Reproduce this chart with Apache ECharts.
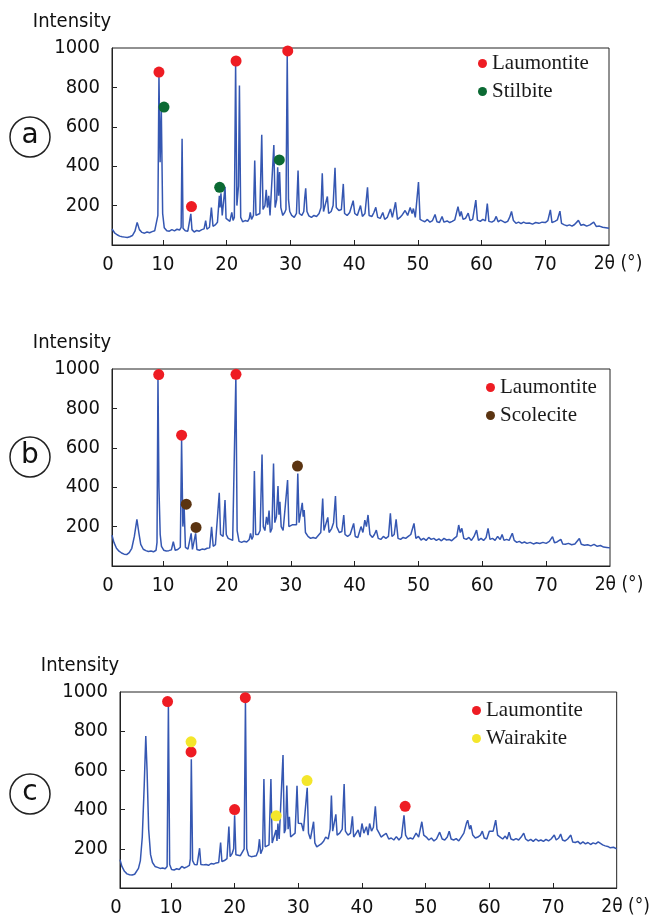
<html>
<head>
<meta charset="utf-8">
<script src="https://cdn.jsdelivr.net/npm/echarts@6/dist/echarts.min.js"></script>
<style>
  html, body { margin: 0; padding: 0; background: #fff; }
  #main { width: 653px; height: 922px; }
</style>
</head>
<body>
<div id="main"></div>
<script type="text/javascript">
// 2θ (°) , intensity
var patternA = [
  [2.0,81],[2.4,62],[2.8,52],[3.2,45],[3.6,42],[4.0,40],[4.4,38],[4.8,42],[5.2,48],[5.6,70],[5.95,115],[6.3,78],[6.7,64],[7.1,60],[7.5,66],[7.9,62],[8.3,68],[8.7,72],[9.0,78],[9.2,150],
  [9.37,860],[9.55,420],[9.74,683],[9.95,160],[10.2,88],[10.6,72],[11.0,70],[11.4,78],[11.8,72],[12.2,80],[12.6,76],[12.85,90],[13.0,539],[13.15,85],[13.5,72],[13.9,70],[14.2,80],[14.37,158],[14.55,78],[14.9,66],
  [15.3,74],[15.7,70],[16.1,78],[16.45,82],[16.7,124],[16.9,80],[17.3,90],[17.6,190],[17.85,95],[18.2,102],[18.55,115],[18.85,250],[18.95,190],[19.1,262],[19.3,150],[19.55,160],[19.74,296],[19.9,135],[20.2,125],[20.5,120],
  [20.8,166],[21.0,125],[21.2,140],[21.4,917],[21.6,200],[21.85,300],[22.0,810],[22.2,140],[22.5,118],[22.9,124],[23.3,120],[23.55,135],[23.7,166],[23.9,130],[24.2,150],[24.4,429],[24.6,150],[24.9,140],[25.2,160],[25.5,559],
  [25.7,180],[26.0,200],[26.2,280],[26.4,190],[26.6,250],[26.8,150],[27.1,160],[27.4,508],[27.6,190],[27.85,230],[28.0,395],[28.15,250],[28.3,370],[28.5,190],[28.8,150],[29.1,165],[29.3,180],[29.5,963],[29.7,230],[29.9,170],
  [30.2,150],[30.6,140],[30.95,160],[31.2,378],[31.4,160],[31.8,150],[32.1,170],[32.25,240],[32.4,288],[32.6,170],[32.9,148],[33.3,140],[33.7,150],[34.1,145],[34.5,160],[34.8,190],[35.0,364],[35.2,170],[35.5,165],[35.8,246],
  [36.0,160],[36.4,170],[36.7,200],[37.0,392],[37.2,190],[37.6,175],[38.0,180],[38.3,310],[38.5,160],[38.9,150],[39.3,165],[39.85,225],[40.1,160],[40.5,150],[41.0,200],[41.3,145],[41.7,160],[42.1,293],[42.35,150],[42.8,145],
  [43.1,165],[43.4,191],[43.7,140],[44.1,135],[44.5,165],[44.8,130],[45.2,140],[45.7,183],[46.0,140],[46.5,217],[46.8,130],[47.2,140],[47.6,155],[48.0,175],[48.4,150],[48.8,190],[49.1,160],[49.3,185],[49.6,140],[50.1,319],
  [50.35,130],[50.7,124],[51.1,118],[51.5,130],[51.9,116],[52.3,124],[52.7,155],[53.0,118],[53.4,114],[53.8,145],[54.1,116],[54.6,122],[55.0,114],[55.4,120],[55.8,128],[56.3,195],[56.6,145],[56.8,170],[57.1,130],[57.5,136],
  [57.9,162],[58.2,124],[58.6,130],[59.1,228],[59.35,126],[59.8,120],[60.2,130],[60.6,122],[60.9,210],[61.15,120],[61.6,116],[62.0,124],[62.3,145],[62.6,118],[63.0,126],[63.3,135],[63.7,114],[64.1,120],[64.4,140],[64.7,170],
  [65.0,124],[65.4,110],[65.8,116],[66.2,108],[66.6,116],[67.0,110],[67.5,112],[68.0,106],[68.5,114],[69.0,110],[69.5,116],[70.0,114],[70.4,124],[70.8,178],[71.05,114],[71.5,120],[71.9,128],[72.3,172],[72.55,110],[73.0,102],
  [73.4,98],[73.8,102],[74.2,96],[74.6,104],[75.2,125],[75.6,100],[76.0,104],[76.5,96],[77.0,102],[77.6,116],[78.0,94],[78.5,96],[79.0,90],[79.5,88],[80.0,85]
];
var patternB = [
  [2.0,157],[2.3,120],[2.7,90],[3.1,75],[3.5,66],[3.9,60],[4.3,58],[4.7,68],[5.1,90],[5.5,150],[5.9,237],[6.2,170],[6.5,110],[6.9,85],[7.3,78],[7.7,74],[8.1,76],[8.5,72],[8.9,80],[9.05,120],
  [9.2,960],[9.35,400],[9.55,160],[9.75,100],[10.1,80],[10.5,76],[10.9,78],[11.3,82],[11.6,123],[11.9,80],[12.3,84],[12.7,95],[12.9,639],[13.1,200],[13.3,301],[13.5,95],[13.9,86],[14.2,90],[14.4,166],[14.6,84],
  [14.9,90],[15.1,166],[15.3,84],[15.7,80],[16.1,86],[16.5,84],[16.9,90],[17.3,92],[17.6,199],[17.85,100],[18.2,108],[18.5,118],[18.8,372],[19.0,160],[19.2,166],[19.4,150],[19.7,335],[19.9,160],[20.2,140],[20.5,150],
  [20.9,130],[21.2,140],[21.4,960],[21.6,180],[21.9,125],[22.3,120],[22.7,126],[23.1,122],[23.5,135],[23.7,166],[23.9,135],[24.1,150],[24.3,482],[24.5,160],[24.9,160],[25.2,180],[25.5,566],[25.7,200],[25.95,180],[26.2,250],
  [26.4,210],[26.6,281],[26.8,170],[27.05,190],[27.3,520],[27.5,220],[27.75,250],[28.0,406],[28.15,260],[28.3,326],[28.5,200],[28.8,180],[29.1,190],[29.5,436],[29.7,200],[30.0,190],[30.3,210],[30.6,200],[30.9,210],[31.1,470],
  [31.3,220],[31.6,230],[31.8,321],[31.95,250],[32.1,284],[32.3,170],[32.7,150],[33.1,140],[33.5,145],[33.9,140],[34.3,155],[34.7,170],[35.0,343],[35.2,180],[35.5,175],[35.8,247],[36.0,170],[36.4,190],[36.7,220],[37.0,355],
  [37.2,200],[37.6,170],[38.0,175],[38.3,259],[38.5,160],[38.9,150],[39.3,160],[39.85,216],[40.1,150],[40.5,145],[41.0,200],[41.3,170],[41.6,233],[41.85,200],[42.1,259],[42.4,160],[42.8,145],[43.1,160],[43.4,182],[43.7,140],
  [44.1,135],[44.5,150],[44.9,140],[45.3,150],[45.6,267],[45.85,150],[46.2,160],[46.5,237],[46.8,140],[47.2,135],[47.6,145],[48.0,140],[48.4,150],[48.8,160],[49.3,216],[49.6,140],[50.0,150],[50.4,132],[50.8,140],[51.2,130],
  [51.6,145],[52.0,135],[52.4,140],[52.8,130],[53.2,138],[53.6,128],[54.0,140],[54.4,132],[54.8,135],[55.2,128],[55.6,140],[56.0,150],[56.3,208],[56.55,170],[56.8,191],[57.1,140],[57.5,135],[57.9,145],[58.3,130],[58.7,150],
  [59.1,182],[59.4,130],[59.8,140],[60.2,130],[60.6,145],[60.9,191],[61.2,135],[61.6,140],[62.0,130],[62.4,150],[62.8,135],[63.1,160],[63.4,130],[63.8,135],[64.2,130],[64.7,166],[65.0,130],[65.4,120],[65.8,125],[66.2,116],
  [66.6,122],[67.0,115],[67.5,120],[68.0,112],[68.5,118],[69.0,114],[69.5,120],[70.0,115],[70.5,125],[71.0,149],[71.3,118],[71.7,122],[72.0,115],[72.3,135],[72.6,112],[73.0,110],[73.5,115],[74.0,108],[74.5,112],[75.2,140],
  [75.5,110],[76.0,105],[76.5,108],[77.0,102],[77.5,110],[78.0,100],[78.5,104],[79.0,96],[79.5,94],[80.0,92]
];
var patternC = [
  [2.0,145],[2.3,110],[2.7,85],[3.1,72],[3.5,68],[3.9,66],[4.3,70],[4.6,80],[4.9,100],[5.2,140],[5.5,260],[5.8,520],[6.05,775],[6.25,600],[6.5,300],[6.8,170],[7.1,130],[7.5,110],[7.9,105],[8.3,100],
  [8.7,102],[9.1,98],[9.4,110],[9.6,931],[9.8,120],[10.1,94],[10.5,92],[10.9,98],[11.3,94],[11.7,110],[12.1,102],[12.5,108],[12.9,115],[13.05,150],[13.2,657],[13.4,140],[13.7,120],[14.1,118],[14.5,203],[14.7,120],
  [15.1,118],[15.5,120],[15.9,116],[16.3,125],[16.7,122],[17.1,128],[17.5,130],[17.8,232],[18.0,135],[18.4,140],[18.8,150],[19.1,313],[19.3,160],[19.6,175],[19.85,200],[20.0,371],[20.2,170],[20.5,160],[20.9,165],[21.2,170],
  [21.5,200],[21.7,951],[21.9,200],[22.2,165],[22.6,160],[23.0,162],[23.4,165],[23.7,190],[23.9,249],[24.1,175],[24.4,200],[24.6,556],[24.8,210],[25.1,200],[25.4,220],[25.7,556],[25.9,230],[26.2,220],[26.5,296],[26.65,240],
  [26.8,329],[27.0,250],[27.3,260],[27.6,679],[27.8,280],[28.0,300],[28.2,523],[28.4,300],[28.6,363],[28.8,260],[29.1,250],[29.5,280],[29.8,521],[30.0,330],[30.2,320],[30.5,329],[30.8,290],[31.1,280],[31.4,511],[31.6,280],
  [31.9,250],[32.1,260],[32.4,338],[32.6,230],[32.9,210],[33.2,215],[33.6,225],[34.0,240],[34.3,260],[34.7,250],[35.0,300],[35.2,472],[35.4,290],[35.7,280],[35.9,376],[36.1,270],[36.5,280],[36.9,300],[37.2,531],[37.4,290],
  [37.8,270],[38.2,280],[38.5,366],[38.7,260],[39.0,250],[39.4,296],[39.7,260],[40.0,329],[40.3,280],[40.7,313],[40.95,270],[41.2,329],[41.5,290],[41.8,310],[42.1,417],[42.35,300],[42.7,280],[43.0,260],[43.4,270],[43.8,279],
  [44.2,250],[44.6,255],[45.0,245],[45.4,262],[45.8,245],[46.2,260],[46.6,371],[46.85,270],[47.2,250],[47.6,255],[48.0,250],[48.5,280],[48.9,260],[49.4,338],[49.7,270],[50.1,260],[50.5,245],[50.9,255],[51.3,240],[51.7,250],
  [52.2,285],[52.6,250],[53.0,245],[53.4,260],[53.7,290],[54.0,250],[54.4,245],[54.8,252],[55.2,240],[55.6,260],[56.0,280],[56.4,330],[56.6,346],[56.9,300],[57.1,320],[57.4,270],[57.8,255],[58.2,260],[58.6,270],[58.9,290],
  [59.2,255],[59.6,250],[60.0,290],[60.3,300],[60.6,290],[61.0,346],[61.3,270],[61.7,260],[62.1,250],[62.5,265],[62.8,250],[63.1,285],[63.4,250],[63.8,245],[64.2,252],[64.6,245],[65.0,260],[65.4,280],[65.7,250],[66.1,240],
  [66.5,248],[66.9,238],[67.3,250],[67.7,240],[68.1,245],[68.5,238],[68.9,248],[69.3,240],[69.7,250],[70.2,270],[70.5,245],[70.9,255],[71.2,275],[71.5,245],[71.9,240],[72.3,250],[72.8,270],[73.1,235],[73.5,232],[73.9,238],
  [74.3,225],[74.7,235],[75.1,225],[75.5,232],[75.9,222],[76.3,230],[76.7,225],[77.1,235],[77.4,240],[77.8,220],[78.2,215],[78.6,212],[79.0,205],[79.5,208],[80.0,200]
];

// phase markers
var laumontiteA = [[9.37,878],[14.47,195],[21.47,934],[29.58,985]];
var stilbiteA   = [[10.16,700],[18.9,293],[28.26,432]];
var laumontiteB = [[9.32,972],[12.9,664],[21.42,973]];
var scoleciteB  = [[13.63,314],[15.16,196],[31.05,507]];
var laumontiteC = [[9.47,951],[13.16,694],[20.0,400],[21.68,971],[46.78,417]];
var wairakiteC  = [[13.16,746],[26.53,368],[31.37,548]];

var xLabelValues = [2, 10, 20, 30, 40, 50, 60, 70, 80];
var xTickValues  = [10, 20, 30, 40, 50, 60, 70];
var yLabelValues = [200, 400, 600, 800, 1000];
var yTickValues  = [200, 400, 600, 800];

var sansFont = "'DejaVu Sans Condensed', 'Liberation Sans', sans-serif";
var serifFont = "'Liberation Serif', 'DejaVu Serif', serif";
var lineColor = '#3557b2';

var myChart = echarts.init(document.getElementById('main'));

var grids = [
  { left: 112, top: 48, width: 497, height: 197 },
  { left: 112, top: 369, width: 498, height: 197 },
  { left: 120, top: 692, width: 498, height: 196 }
];

function makeXAxis(i) {
  return {
    gridIndex: i, type: 'value', min: 2, max: 80,
    axisLine: { lineStyle: { color: '#222', width: 1 } },
    axisTick: { inside: true, length: 5, customValues: xTickValues, lineStyle: { color: '#222' } },
    splitLine: { show: false },
    axisLabel: {
      customValues: xLabelValues, margin: 10, color: '#111',
      fontFamily: sansFont, fontSize: 20,
      formatter: function (v) {
        if (v === 2) return '{z|0}';
        if (v === 80) return '{e|2θ (°)}';
        return String(v);
      },
      rich: {
        z: { fontFamily: sansFont, fontSize: 20, color: '#111', padding: [0, 8, 0, 0] },
        e: { fontFamily: sansFont, fontSize: 19, color: '#111', padding: [0, 0, 0, 18] }
      }
    }
  };
}

function makeYAxis(i) {
  return {
    gridIndex: i, type: 'value', min: 0, max: 1000,
    name: 'Intensity', nameLocation: 'end', nameGap: 16,
    nameTextStyle: { fontFamily: sansFont, fontSize: 20, color: '#111', padding: [0, 80, 0, 0] },
    axisLine: { show: true, lineStyle: { color: '#222', width: 1 } },
    axisTick: { show: true, inside: true, length: 5, customValues: yTickValues, lineStyle: { color: '#222' } },
    splitLine: { show: false },
    axisLabel: {
      customValues: yLabelValues, margin: 12, color: '#111', fontFamily: sansFont, fontSize: 20,
      formatter: function (v) { return String(v); }
    }
  };
}

function lineSeries(i, data) {
  return {
    type: 'line', xAxisIndex: i, yAxisIndex: i, data: data,
    showSymbol: false, symbol: 'none', silent: true,
    lineStyle: { color: lineColor, width: 1.5 }, z: 2
  };
}

function dotSeries(i, name, color, data) {
  return {
    type: 'scatter', name: name, xAxisIndex: i, yAxisIndex: i, data: data,
    symbol: 'circle', symbolSize: 11, itemStyle: { color: color, opacity: 1 }, z: 4
  };
}

function makeLegend(names, left, top) {
  return {
    data: names, orient: 'vertical', left: left, top: top, padding: 0,
    icon: 'circle', itemWidth: 9, itemHeight: 9, itemGap: 7, selectedMode: false,
    itemStyle: { opacity: 1 },
    textStyle: { fontFamily: serifFont, fontSize: 21, color: '#1a1a1a', lineHeight: 20 }
  };
}

function circledLetter(letter, cx, cy) {
  return [
    { type: 'circle', shape: { cx: cx, cy: cy, r: 20 }, style: { fill: 'none', stroke: '#222', lineWidth: 1.5 } },
    { type: 'text', x: cx, y: cy - 1, style: { text: letter, font: "28px 'DejaVu Sans', sans-serif", fill: '#111',
      textAlign: 'center', textVerticalAlign: 'middle', align: 'center', verticalAlign: 'middle' } }
  ];
}

var red = '#ee1c23', green = '#0b6a33', brown = '#5b3411', yellow = '#f4e62b';

var option = {
  backgroundColor: '#fff',
  animation: false,
  grid: grids.map(function (g) {
    return { left: g.left, top: g.top, width: g.width, height: g.height, show: true, borderColor: '#222', borderWidth: 1 };
  }),
  xAxis: [makeXAxis(0), makeXAxis(1), makeXAxis(2)],
  yAxis: [makeYAxis(0), makeYAxis(1), makeYAxis(2)],
  legend: [
    makeLegend(['Laumontite', 'Stilbite'], 478, 53),
    makeLegend(['Laumontite', 'Scolecite'], 486, 377),
    makeLegend(['Laumontite', 'Wairakite'], 472, 700)
  ],
  graphic: [].concat(circledLetter('a', 30, 137), circledLetter('b', 30, 457), circledLetter('c', 30, 794)),
  series: [
    lineSeries(0, patternA),
    dotSeries(0, 'Laumontite', red, laumontiteA),
    dotSeries(0, 'Stilbite', green, stilbiteA),
    lineSeries(1, patternB),
    dotSeries(1, 'Laumontite', red, laumontiteB),
    dotSeries(1, 'Scolecite', brown, scoleciteB),
    lineSeries(2, patternC),
    dotSeries(2, 'Laumontite', red, laumontiteC),
    dotSeries(2, 'Wairakite', yellow, wairakiteC)
  ]
};
myChart.setOption(option);
</script>
</body>
</html>
